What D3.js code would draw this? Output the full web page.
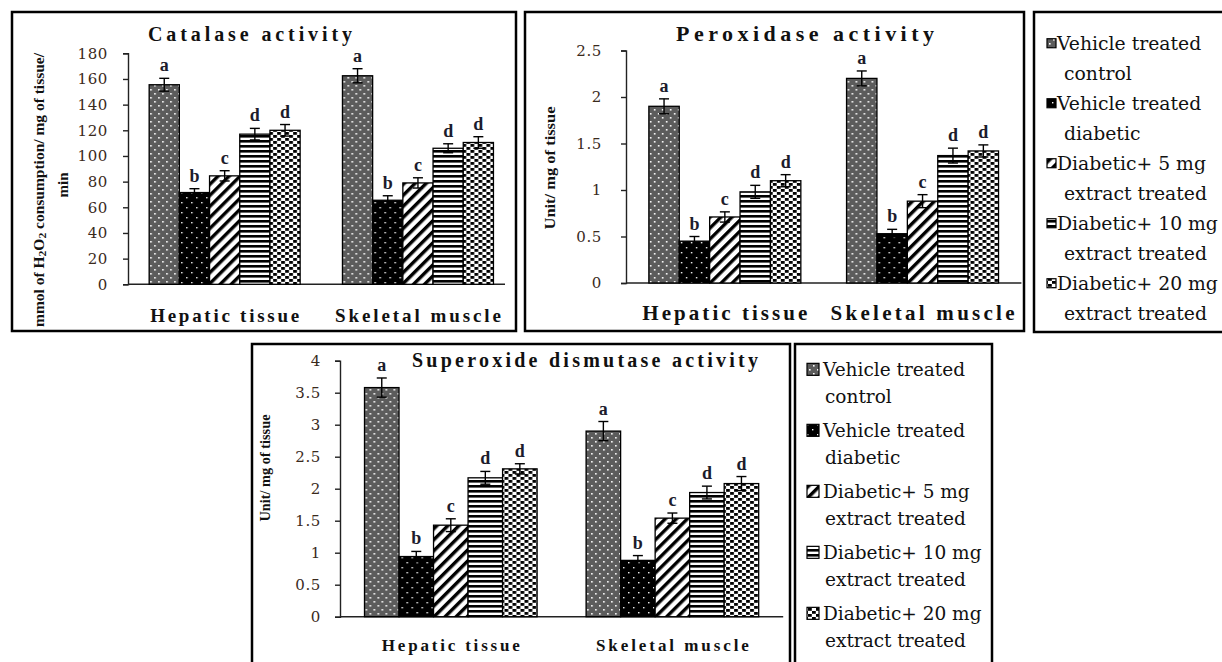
<!DOCTYPE html>
<html>
<head>
<meta charset="utf-8">
<script src="https://cdn.jsdelivr.net/npm/d3@7"></script>
<style>
  body { margin: 0; background: #fff; }
  svg { display: block; }
</style>
</head>
<body>
<svg id="chart" width="1222" height="662"></svg>
<script>
// categories & series
const groups = ['Hepatic tissue', 'Skeletal muscle'];
const treatments = ['control', 'diabetic', 'd5', 'd10', 'd20'];
const legendLabels = [
  ['Vehicle treated', 'control'],
  ['Vehicle treated', 'diabetic'],
  ['Diabetic+ 5 mg', 'extract treated'],
  ['Diabetic+ 10 mg', 'extract treated'],
  ['Diabetic+ 20 mg', 'extract treated']
];
const sigLetters = ['a', 'b', 'c', 'd', 'd'];

const catalaseHepatic = [155.5, 71.5, 84.5, 117, 120];
const catalaseHepaticErr = [5, 3, 4, 4.5, 4.5];
const catalaseSkeletal = [162.5, 65.5, 79, 106, 110.5];
const catalaseSkeletalErr = [5.5, 3.5, 4, 3.5, 4.5];
const catalaseTicks = [0, 20, 40, 60, 80, 100, 120, 140, 160, 180];

const peroxidaseHepatic = [1.9, 0.45, 0.71, 0.98, 1.1];
const peroxidaseHepaticErr = [0.08, 0.05, 0.055, 0.07, 0.065];
const peroxidaseSkeletal = [2.2, 0.53, 0.88, 1.37, 1.42];
const peroxidaseSkeletalErr = [0.08, 0.047, 0.07, 0.08, 0.065];
const peroxidaseTicks = [0, 0.5, 1, 1.5, 2, 2.5];

const sodHepatic = [3.58, 0.94, 1.43, 2.17, 2.31];
const sodHepaticErr = [0.15, 0.08, 0.1, 0.1, 0.08];
const sodSkeletal = [2.9, 0.88, 1.54, 1.94, 2.08];
const sodSkeletalErr = [0.15, 0.075, 0.08, 0.1, 0.11];
const sodTicks = [0, 0.5, 1, 1.5, 2, 2.5, 3, 3.5, 4];

// bold text in Liberation Serif, regular text in DejaVu Serif
const serifBold = 'Liberation Serif';
const serifRegular = 'DejaVu Serif';
const svg = d3.select('#chart');
const defs = svg.append('defs');

// bar fill patterns
function pattern(id, w, h) {
  return defs.append('pattern').attr('id', id)
    .attr('patternUnits', 'userSpaceOnUse')
    .attr('width', w).attr('height', h);
}
const pc = pattern('pat-control', 8, 8);
pc.append('rect').attr('width', 8).attr('height', 8).attr('fill', '#5c5c5c');
pc.append('rect').attr('x', 1).attr('y', 1).attr('width', 1.6).attr('height', 1.6).attr('fill', '#fff');
pc.append('rect').attr('x', 5).attr('y', 5).attr('width', 1.6).attr('height', 1.6).attr('fill', '#fff');

const pd = pattern('pat-diabetic', 10, 10);
pd.append('rect').attr('width', 10).attr('height', 10).attr('fill', '#000');
pd.append('rect').attr('x', 2).attr('y', 2).attr('width', 1.4).attr('height', 1.4).attr('fill', '#fff');
pd.append('rect').attr('x', 7).attr('y', 7).attr('width', 1.4).attr('height', 1.4).attr('fill', '#fff');

const p5 = pattern('pat-d5', 7.8, 10).attr('patternTransform', 'rotate(45)');
p5.append('rect').attr('width', 7.8).attr('height', 10).attr('fill', '#fff');
p5.append('rect').attr('width', 3.4).attr('height', 10).attr('fill', '#000');

const p10 = pattern('pat-d10', 10, 5);
p10.append('rect').attr('width', 10).attr('height', 5).attr('fill', '#fff');
p10.append('rect').attr('width', 10).attr('height', 2.6).attr('fill', '#000');

const p20 = pattern('pat-d20', 8, 6);
p20.append('rect').attr('width', 8).attr('height', 6).attr('fill', '#fff');
p20.append('rect').attr('x', 0).attr('y', 0).attr('width', 3.8).attr('height', 2.8).attr('fill', '#000');
p20.append('rect').attr('x', 4).attr('y', 3).attr('width', 3.8).attr('height', 2.8).attr('fill', '#000');

const fillOf = t => `url(#pat-${t})`;

// panel layouts
const panels = [
  {
    title: 'Catalase activity', titleAt: [250, 41], titleSize: 20, titleLen: 204,
    values: [catalaseHepatic, catalaseSkeletal], errors: [catalaseHepaticErr, catalaseSkeletalErr],
    ticks: catalaseTicks, box: [12, 12, 504, 319],
    xRange: [128, 514.6], xEnd: 505, gap: 42.3, yRange: [284.3, 53.3],
    catSize: 19, catY: 322, catLen: [149, 166], tickPad: 15,
    yTitle: [
      { parts: [['mmol of H'], ['2', 'sub'], ['O'], ['2', 'sub'], [' consumption/ mg of tissue/']], at: [39, 190], len: 274 },
      { parts: [['min']], at: [63, 185] }
    ], yTitleSize: 15
  },
  {
    title: 'Peroxidase activity', titleAt: [805, 41], titleSize: 22, titleLen: 258,
    values: [peroxidaseHepatic, peroxidaseSkeletal], errors: [peroxidaseHepaticErr, peroxidaseSkeletalErr],
    ticks: peroxidaseTicks, box: [525, 12, 499, 319],
    xRange: [626, 1021.4], xEnd: 1021.4, gap: 45.7, yRange: [283, 50.5],
    catSize: 21, catY: 320, catLen: [165, 184], tickPad: 19,
    yTitle: [{ parts: [['Unit/ mg of tissue']], at: [550, 168], len: 123 }], yTitleSize: 15
  },
  {
    title: 'Superoxide dismutase  activity', titleAt: [585, 367], titleSize: 20, titleLen: 346,
    values: [sodHepatic, sodSkeletal], errors: [sodHepaticErr, sodSkeletalErr],
    ticks: sodTicks, box: [252, 344, 538, 330],
    xRange: [340, 783.2], xEnd: 783.2, gap: 49, yRange: [616.7, 360.7],
    catSize: 17, catY: 651, catLen: [138, 153], tickPad: 14,
    yTitle: [{ parts: [['Unit/ mg of tissue']], at: [265, 468], len: 107 }], yTitleSize: 14
  }
];

function drawPanel(p) {
  const g = svg.append('g');

  // frame
  g.append('rect')
    .attr('x', p.box[0]).attr('y', p.box[1])
    .attr('width', p.box[2]).attr('height', p.box[3])
    .attr('fill', '#fff').attr('stroke', '#000').attr('stroke-width', 2.5);

  // scales
  const step = (p.xRange[1] - p.xRange[0]) / groups.length;
  const x0 = d3.scaleBand().domain(groups).range(p.xRange)
    .paddingInner(p.gap / step).paddingOuter(p.gap / step / 2);
  const x1 = d3.scaleBand().domain(treatments).range([0, x0.bandwidth()]);
  const y = d3.scaleLinear().domain([0, d3.max(p.ticks)]).range(p.yRange);

  // title
  g.append('text')
    .attr('x', p.titleAt[0]).attr('y', p.titleAt[1])
    .attr('text-anchor', 'middle')
    .attr('font-family', serifBold)
    .attr('font-size', p.titleSize).attr('font-weight', 'bold')
    .attr('textLength', p.titleLen).attr('lengthAdjust', 'spacing')
    .attr('fill', '#111')
    .text(p.title);

  // y axis
  const yAxis = g.append('g')
    .attr('transform', `translate(${p.xRange[0]},0)`)
    .call(d3.axisLeft(y).tickValues(p.ticks).tickFormat(d => d).tickSize(5).tickPadding(p.tickPad));
  yAxis.select('.domain').attr('stroke', '#222').attr('stroke-width', 1.4);
  yAxis.selectAll('.tick line').attr('stroke', '#222').attr('stroke-width', 1.4);
  yAxis.selectAll('.tick text')
    .attr('font-family', serifRegular)
    .attr('font-size', 15).attr('letter-spacing', 0.6)
    .attr('fill', '#3a2a1c');

  // x axis line
  g.append('line')
    .attr('x1', p.xRange[0]).attr('x2', p.xEnd)
    .attr('y1', y(0)).attr('y2', y(0))
    .attr('stroke', '#222').attr('stroke-width', 1.4);

  // category labels
  g.selectAll('.cat').data(groups).enter().append('text')
    .attr('class', 'cat')
    .attr('x', d => x0(d) + x0.bandwidth() / 2)
    .attr('y', p.catY)
    .attr('text-anchor', 'middle')
    .attr('font-family', serifBold)
    .attr('font-size', p.catSize).attr('font-weight', 'bold')
    .attr('textLength', (d, i) => p.catLen[i]).attr('lengthAdjust', 'spacing')
    .attr('fill', '#111')
    .text(d => d);

  // bars
  const rows = groups.map((grp, gi) => treatments.map((t, ti) => ({
    group: grp, key: t, value: p.values[gi][ti], err: p.errors[gi][ti], letter: sigLetters[ti]
  })));
  const cluster = g.selectAll('.cluster').data(rows).enter().append('g')
    .attr('class', 'cluster')
    .attr('transform', (d, i) => `translate(${x0(groups[i])},0)`);

  cluster.selectAll('.bar').data(d => d).enter().append('rect')
    .attr('class', 'bar')
    .attr('x', d => x1(d.key))
    .attr('y', d => y(d.value))
    .attr('width', x1.bandwidth())
    .attr('height', d => y(0) - y(d.value))
    .attr('fill', d => fillOf(d.key))
    .attr('stroke', '#000').attr('stroke-width', 1.3);

  // error bars
  const cx = d => x1(d.key) + x1.bandwidth() / 2;
  const eb = cluster.selectAll('.err').data(d => d).enter().append('g')
    .attr('class', 'err')
    .attr('stroke', '#000').attr('stroke-width', 1.4);
  eb.append('line')
    .attr('x1', cx).attr('x2', cx)
    .attr('y1', d => y(d.value - d.err)).attr('y2', d => y(d.value + d.err));
  eb.append('line')
    .attr('x1', d => cx(d) - 5).attr('x2', d => cx(d) + 5)
    .attr('y1', d => y(d.value + d.err)).attr('y2', d => y(d.value + d.err));
  eb.append('line')
    .attr('x1', d => cx(d) - 5).attr('x2', d => cx(d) + 5)
    .attr('y1', d => y(d.value - d.err)).attr('y2', d => y(d.value - d.err));

  // significance letters
  cluster.selectAll('.sig').data(d => d).enter().append('text')
    .attr('class', 'sig')
    .attr('x', cx)
    .attr('y', d => y(d.value + d.err) - 7)
    .attr('text-anchor', 'middle')
    .attr('font-family', serifBold)
    .attr('font-size', 18).attr('font-weight', 'bold')
    .attr('fill', '#1c1c2c')
    .text(d => d.letter);

  // y title (rotated)
  p.yTitle.forEach(line => {
    const t = g.append('text')
      .attr('transform', `translate(${line.at[0]},${line.at[1]}) rotate(-90)`)
      .attr('text-anchor', 'middle')
      .attr('dominant-baseline', 'central')
      .attr('font-family', serifBold)
      .attr('font-size', p.yTitleSize).attr('font-weight', 'bold')
      .attr('fill', '#111');
    if (line.len) t.attr('textLength', line.len).attr('lengthAdjust', 'spacingAndGlyphs');
    line.parts.forEach(([s, kind], i) => {
      const prev = i > 0 ? line.parts[i - 1][1] : null;
      const ts = t.append('tspan').text(s);
      if (kind === 'sub') ts.attr('dy', 3).attr('font-size', p.yTitleSize * 0.75);
      else if (prev === 'sub') ts.attr('dy', -3);
    });
  });
}

panels.forEach(drawPanel);

// legends
function drawLegend(l) {
  const g = svg.append('g');
  g.append('rect')
    .attr('x', l.box[0]).attr('y', l.box[1])
    .attr('width', l.box[2]).attr('height', l.box[3])
    .attr('fill', '#fff').attr('stroke', '#000').attr('stroke-width', 2.5);
  const item = g.selectAll('.item').data(treatments).enter().append('g')
    .attr('class', 'item')
    .attr('transform', (d, i) => `translate(0,${l.first + i * l.step})`);
  item.append('rect')
    .attr('x', l.swatchX).attr('y', -l.size / 2 - l.fontSize * 0.36)
    .attr('width', l.size).attr('height', l.size)
    .attr('fill', d => fillOf(d))
    .attr('stroke', '#000').attr('stroke-width', 1.2);
  item.append('text')
    .attr('x', l.textX).attr('y', 0)
    .attr('font-family', serifRegular)
    .attr('font-size', l.fontSize).attr('fill', '#111')
    .text((d, i) => legendLabels[i][0]);
  item.append('text')
    .attr('x', l.indentX).attr('y', l.lineGap)
    .attr('font-family', serifRegular)
    .attr('font-size', l.fontSize).attr('fill', '#111')
    .text((d, i) => legendLabels[i][1]);
}

drawLegend({ box: [1034, 12, 200, 320], first: 50, step: 60, lineGap: 29.5, swatchX: 1047, size: 9, textX: 1057, indentX: 1064, fontSize: 18.8 });
drawLegend({ box: [795, 344, 197, 330], first: 376, step: 61, lineGap: 27, swatchX: 807, size: 12, textX: 823, indentX: 825, fontSize: 18.5 });
</script>
</body>
</html>
